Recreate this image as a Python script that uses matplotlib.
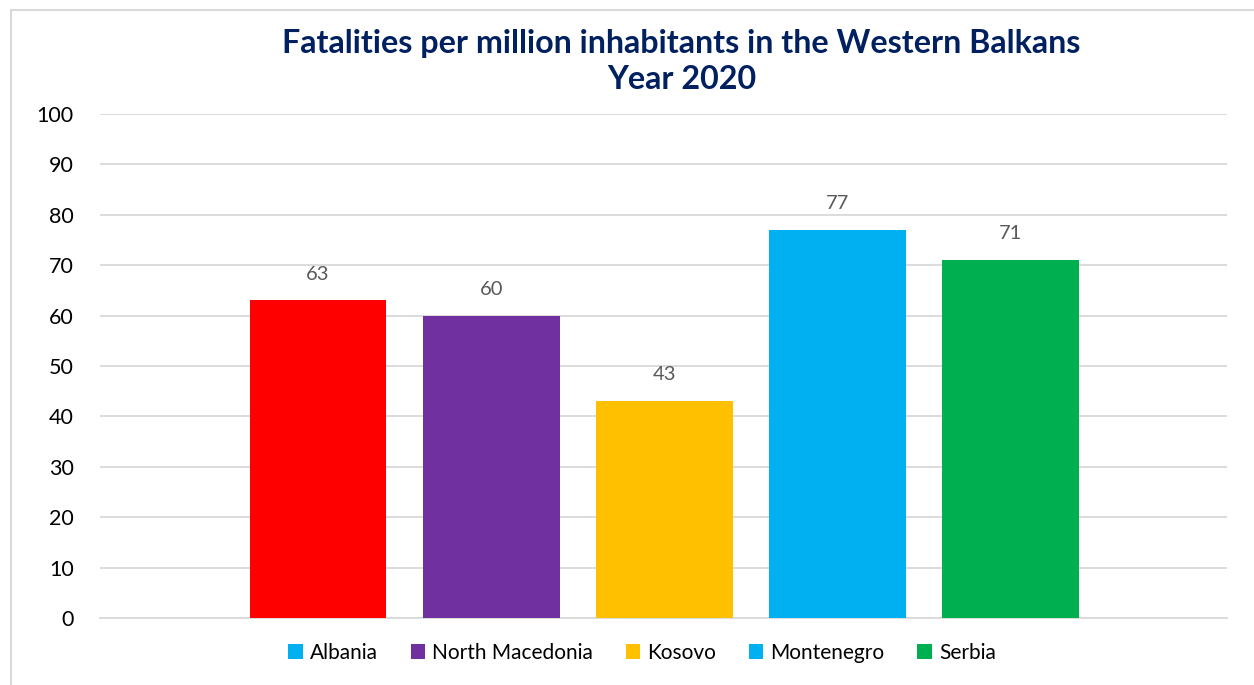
import matplotlib
matplotlib.use("Agg")
import matplotlib.pyplot as plt
from matplotlib.patches import Patch, Rectangle

countries = ["Albania", "North Macedonia", "Kosovo", "Montenegro", "Serbia"]
values = [63, 60, 43, 77, 71]
bar_colors = ["#FF0000", "#7030A0", "#FFC000", "#00B0F0", "#00B050"]
legend_colors = ["#00B0F0", "#7030A0", "#FFC000", "#00B0F0", "#00B050"]
yticks = [0, 10, 20, 30, 40, 50, 60, 70, 80, 90, 100]
title = "Fatalities per million inhabitants in the Western Balkans\nYear 2020"

plt.rcParams['font.family'] = ['Lato', 'DejaVu Sans']

fig = plt.figure(figsize=(12.54, 6.85), dpi=100)
ax = fig.add_axes([0.0797, 0.0978, 0.8988, 0.7358])

x = list(range(len(countries)))
bars = ax.bar(x, values, width=0.79, color=bar_colors, zorder=3)
for xi, v in zip(x, values):
    ax.annotate(str(v), (xi, v), xytext=(0, 19), textcoords="offset points",
                ha="center", va="center", fontsize=14.5, color="#595959")

ax.set_xlim(-1.26, 5.25)
ax.set_ylim(0, 100)
ax.set_yticks(yticks)
ax.set_yticklabels([str(t) for t in yticks], fontsize=15.5, color="#000000")
ax.set_xticks([])
ax.tick_params(axis='y', length=0, pad=19)
ax.grid(axis='y', color="#D9D9D9", linewidth=1.3, zorder=0)
for s in ["top", "right", "left"]:
    ax.spines[s].set_visible(False)
ax.spines["bottom"].set_color("#D9D9D9")
ax.spines["bottom"].set_linewidth(1.3)

fig.text(0.5435, 0.91, title, ha="center", va="center", fontsize=23.2,
         fontweight="bold", color="#002060", linespacing=1.3)

handles = [Patch(facecolor=c, edgecolor="none") for c in legend_colors]
fig.legend(handles, countries, loc="center", bbox_to_anchor=(0.512, 0.047),
           ncol=5, frameon=False, fontsize=15, handlelength=0.7,
           handleheight=0.7, handletextpad=0.35, columnspacing=1.55)

fig.patches.append(Rectangle((11/1254, -0.1), 1.2, 1 - 10/685 + 0.1,
                             transform=fig.transFigure, fill=False,
                             edgecolor="#D9D9D9", linewidth=1.5))

fig.savefig("out.png", dpi=100)
